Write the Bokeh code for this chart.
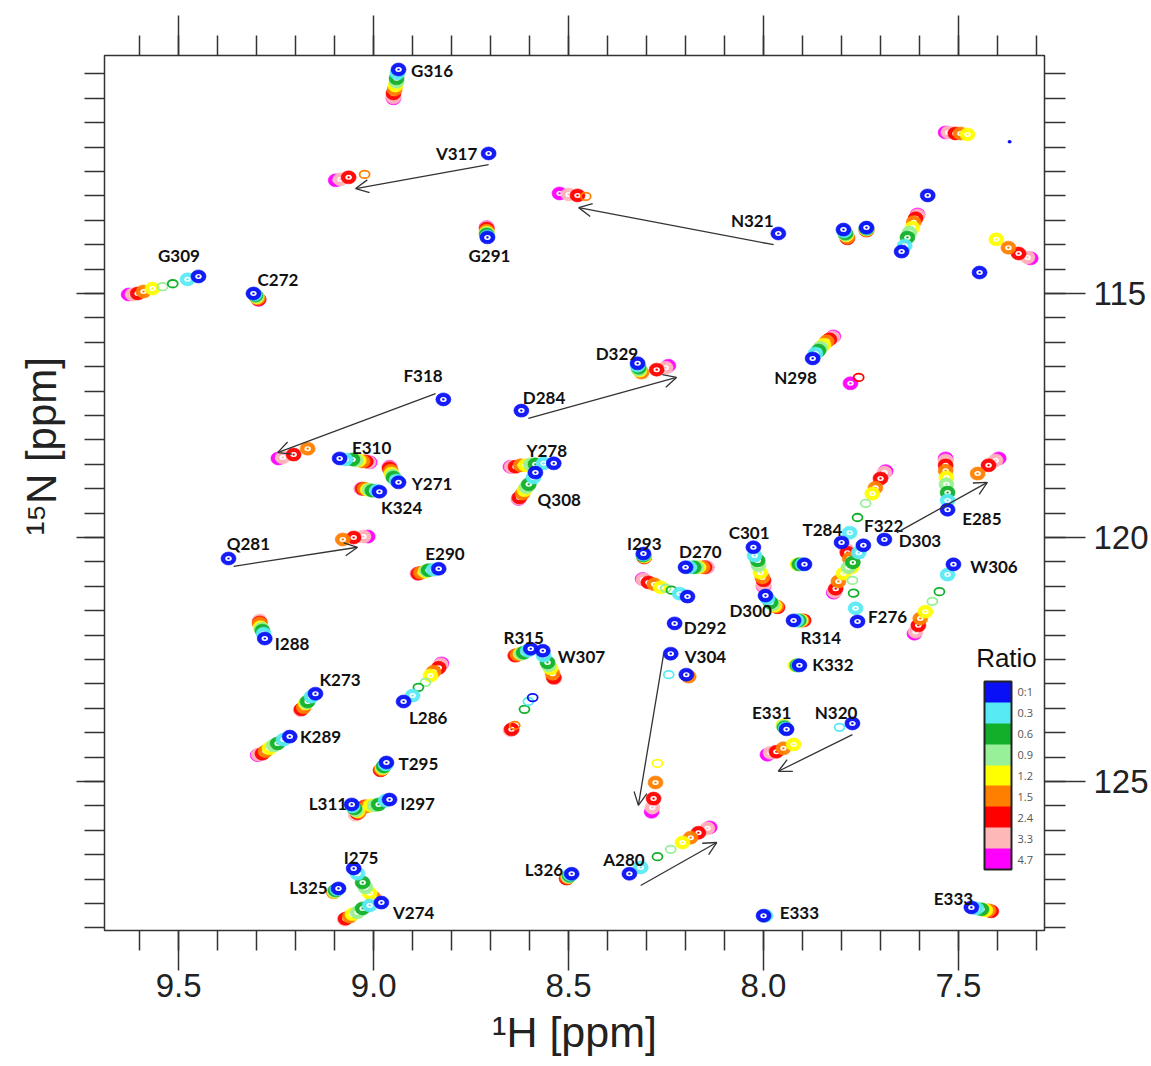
from bokeh.plotting import figure
from bokeh.models import (Range1d, LinearAxis, FixedTicker, ColumnDataSource, Arrow, Title,
                          OpenHead, ColorBar, LinearColorMapper, PrintfTickFormatter,
                          CustomLabelingPolicy)
from bokeh.core.properties import value
from bokeh.embed import file_html
from bokeh.resources import INLINE

# ---------------- data ----------------
ratio_labels = ["0:1", "0.3", "0.6", "0.9", "1.2", "1.5", "2.4", "3.3", "4.7"]
ratio_colors = ["#0A10F5", "#58EAF4", "#12B02A", "#98F098", "#FFFF00",
                "#FF8000", "#FF0000", "#FFB8B8", "#FF00FF"]

x_major = [9.5, 9.0, 8.5, 8.0, 7.5]
y_major = [115, 120, 125]

# 1H / 15N positions for each titration point (blue 0:1 ... magenta 4.7); None = not observed
G316_H = [8.936, 8.939, 8.941, 8.941, 8.944, 8.946, 8.949, 8.949, 8.949]
G316_N = [110.41, 110.49, 110.59, 110.66, 110.74, 110.82, 110.90, 110.98, 111.00]
V317_H = [8.705, None, None, None, None, 9.023, 9.064, 9.085, 9.097]
V317_N = [112.13, None, None, None, None, 112.56, 112.62, 112.66, 112.68]
N321_H = [7.962, None, None, None, None, 8.456, 8.477, 8.500, 8.523]
N321_N = [113.77, None, None, None, None, 113.01, 112.99, 112.97, 112.95]
G291_H = [8.708, 8.708, 8.710, 8.710, 8.710, 8.710, 8.710, 8.710, 8.710]
G291_N = [113.85, 113.83, 113.79, 113.77, 113.75, 113.71, 113.67, 113.65, 113.64]
G309_H = [9.449, 9.477, 9.515, 9.541, 9.567, 9.590, 9.605, 9.618, 9.628]
G309_N = [114.65, 114.71, 114.80, 114.86, 114.90, 114.96, 115.00, 115.02, 115.02]
C272_H = [9.308, 9.305, 9.303, 9.300, 9.300, 9.297, 9.295, 9.295, 9.295]
C272_N = [115.00, 115.02, 115.04, 115.06, 115.08, 115.10, 115.12, 115.12, 115.13]
X1_H = [None, None, None, None, 7.477, 7.495, 7.508, 7.526, 7.533]
X1_N = [None, None, None, None, 111.74, 111.72, 111.72, 111.70, 111.70]
X2_H = [7.369, None, None, None, None, None, None, None, None]
X2_N = [111.89, None, None, None, None, None, None, None, None]
X3_H = [7.579, None, None, None, None, None, None, None, None]
X3_N = [112.99, None, None, None, None, None, None, None, None]
X4_H = [7.646, 7.638, 7.631, 7.626, 7.618, 7.615, 7.610, 7.605, 7.605]
X4_N = [114.14, 114.02, 113.85, 113.75, 113.65, 113.54, 113.46, 113.40, 113.38]
X5_H = [7.795, 7.793, 7.790, 7.790, 7.788, 7.785, 7.785, None, None]
X5_N = [113.69, 113.73, 113.77, 113.79, 113.81, 113.85, 113.87, None, None]
X6_H = [7.736, 7.736, 7.736, 7.736, 7.736, 7.736, 7.736, None, None]
X6_N = [113.65, 113.66, 113.67, 113.68, 113.69, 113.70, 113.71, None, None]
X7_H = [None, None, None, None, 7.403, 7.372, 7.346, 7.323, 7.315]
X7_N = [None, None, None, None, 113.89, 114.06, 114.18, 114.26, 114.28]
X8_H = [7.446, None, None, None, None, None, None, None, None]
X8_N = [114.57, None, None, None, None, None, None, None, None]
F318_H = [8.821, None, None, None, None, 9.169, 9.205, 9.233, 9.244]
F318_N = [117.17, None, None, None, None, 118.18, 118.30, 118.36, 118.38]
E310_H = [9.087, 9.072, 9.054, 9.046, 9.038, 9.028, 9.020, 9.013, 9.010]
E310_N = [118.38, 118.40, 118.40, 118.42, 118.42, 118.44, 118.44, 118.46, 118.46]
Y271_H = [8.936, 8.941, 8.949, 8.951, 8.954, 8.956, 8.959, 8.959, 8.959]
Y271_N = [118.87, 118.83, 118.77, 118.73, 118.69, 118.63, 118.58, 118.56, 118.55]
K324_H = [8.985, 8.992, 9.003, 9.010, 9.015, 9.023, 9.028, 9.031, 9.031]
K324_N = [119.06, 119.04, 119.04, 119.02, 119.02, 119.00, 119.00, 119.00, 119.00]
Y278_H = [8.538, 8.564, 8.585, 8.597, 8.610, 8.623, 8.636, 8.646, 8.649]
Y278_N = [118.48, 118.48, 118.50, 118.50, 118.52, 118.52, 118.55, 118.55, 118.55]
Q308_H = [8.585, 8.590, 8.602, 8.608, 8.613, 8.618, 8.626, 8.628, 8.628]
Q308_N = [118.67, 118.77, 118.91, 118.97, 119.03, 119.10, 119.18, 119.20, 119.21]
D284_H = [8.621, None, None, None, None, None, 8.274, 8.251, 8.244]
D284_N = [117.40, None, None, None, None, None, 116.56, 116.52, 116.48]
D329_H = [8.323, 8.323, 8.320, 8.320, 8.318, 8.313, None, None, None]
D329_N = [116.43, 116.48, 116.52, 116.56, 116.58, 116.62, None, None, None]
N298_H = [7.874, 7.867, 7.859, 7.854, 7.846, 7.838, 7.831, 7.823, 7.821]
N298_N = [116.33, 116.23, 116.17, 116.11, 116.05, 115.98, 115.94, 115.90, 115.88]
X9_H = [None, None, None, None, None, None, 7.756, None, 7.777]
X9_N = [None, None, None, None, None, None, 116.72, None, 116.84]
Q281_H = [9.372, None, None, None, None, 9.079, 9.051, 9.026, 9.015]
Q281_N = [120.43, None, None, None, None, 120.04, 120.00, 119.98, 119.98]
E290_H = [8.833, 8.846, 8.859, 8.864, 8.867, 8.879, 8.885, 8.887, 8.887]
E290_N = [120.64, 120.66, 120.67, 120.68, 120.70, 120.72, 120.74, 120.74, 120.74]
I293_H = [8.308, 8.308, 8.308, 8.308, 8.306, 8.306, 8.306, None, None]
I293_N = [120.33, 120.35, 120.37, 120.37, 120.39, 120.39, 120.41, None, None]
D270_H = [8.200, 8.190, 8.179, 8.172, 8.167, 8.156, 8.151, 8.146, 8.146]
D270_N = [120.61, 120.61, 120.61, 120.61, 120.61, 120.61, 120.61, 120.61, 120.61]
X10_H = [8.195, 8.215, 8.236, 8.251, 8.264, 8.280, 8.295, 8.308, 8.310]
X10_N = [121.21, 121.15, 121.08, 121.04, 121.02, 120.96, 120.92, 120.86, 120.85]
D292_H = [8.228, None, None, None, None, None, None, None, None]
D292_N = [121.76, None, None, None, None, None, None, None, None]
C301_H = [8.026, 8.023, 8.015, 8.013, 8.008, 8.003, 8.000, 8.000, 8.000]
C301_N = [120.20, 120.37, 120.47, 120.57, 120.72, 120.82, 120.88, 120.98, 121.00]
D300_H = [7.995, 7.990, 7.982, 7.977, 7.972, 7.967, 7.964, None, None]
D300_N = [121.19, 121.25, 121.33, 121.37, 121.40, 121.41, 121.43, None, None]
X11_H = [7.895, 7.900, 7.908, 7.910, 7.913, None, None, None, None]
X11_N = [120.55, 120.55, 120.55, 120.55, 120.55, None, None, None, None]
R314_H = [7.923, 7.915, 7.910, 7.908, 7.905, 7.902, 7.897, None, None]
R314_N = [121.70, 121.70, 121.70, 121.70, 121.70, 121.70, 121.70, None, None]
T284_H = [7.800, 7.779, 7.759, 7.738, 7.721, 7.713, 7.700, 7.690, 7.687]
T284_N = [120.10, 119.90, 119.59, 119.30, 119.10, 118.98, 118.79, 118.67, 118.64]
F322_H = [7.744, 7.756, 7.771, 7.782, 7.795, 7.808, 7.815, 7.818, 7.820]
F322_N = [120.16, 120.31, 120.51, 120.61, 120.74, 120.90, 121.05, 121.11, 121.13]
F276_H = [7.759, 7.764, 7.769, 7.772, 7.774, 7.779, 7.785, 7.787, None]
F276_N = [121.72, 121.45, 121.14, 120.88, 120.61, 120.43, 120.31, 120.25, None]
D303_H = [7.690, None, None, None, None, 7.451, 7.423, 7.405, 7.397]
D303_N = [120.04, None, None, None, None, 118.69, 118.52, 118.42, 118.38]
E285_H = [7.528, 7.528, 7.528, 7.531, 7.531, 7.533, 7.533, 7.533, 7.533]
E285_N = [119.43, 119.24, 119.08, 118.91, 118.77, 118.63, 118.52, 118.42, 118.38]
W306_H = [7.513, 7.528, 7.549, 7.567, 7.585, 7.598, 7.603, 7.610, 7.613]
W306_N = [120.55, 120.76, 121.11, 121.31, 121.52, 121.66, 121.80, 121.93, 121.97]
K332_H = [7.908, 7.910, 7.913, 7.915, 7.918, None, None, None, None]
K332_N = [122.62, 122.62, 122.62, 122.62, 122.62, None, None, None, None]
E331_H = [7.941, 7.943, 7.946, 7.948, 7.949, None, None, None, None]
E331_N = [123.93, 123.91, 123.89, 123.87, 123.85, None, None, None, None]
N320_H = [7.772, 7.805, None, None, 7.923, 7.949, 7.967, 7.982, 7.990]
N320_N = [123.81, 123.89, None, None, 124.24, 124.32, 124.39, 124.41, 124.45]
R315_H = [8.597, 8.605, 8.615, 8.620, 8.623, 8.631, 8.636, 8.638, None]
R315_N = [122.28, 122.32, 122.36, 122.38, 122.38, 122.40, 122.42, 122.42, None]
W307_H = [8.566, 8.564, 8.554, 8.551, 8.546, 8.541, 8.538, 8.536, None]
W307_N = [122.32, 122.42, 122.56, 122.62, 122.68, 122.79, 122.87, 122.89, None]
X12_H = [8.592, 8.603, 8.613, None, None, 8.638, 8.646, 8.649, None]
X12_N = [123.28, 123.36, 123.52, None, None, 123.85, 123.93, 123.95, None]
V304_H = [8.238, 8.243, None, None, 8.272, 8.277, 8.282, 8.285, 8.287]
V304_N = [122.38, 122.81, None, None, 124.63, 125.02, 125.35, 125.53, 125.62]
X13_H = [8.198, None, None, None, None, 8.192, None, None, None]
X13_N = [122.81, None, None, None, None, 122.85, None, None, None]
A280_H = [8.344, 8.315, 8.272, 8.238, 8.208, 8.187, 8.167, 8.144, 8.138]
A280_N = [126.89, 126.76, 126.54, 126.39, 126.25, 126.15, 126.05, 125.96, 125.94]
L326_H = [8.492, 8.495, 8.497, 8.500, 8.500, 8.502, 8.505, None, None]
L326_N = [126.89, 126.91, 126.93, 126.95, 126.95, 126.97, 126.99, None, None]
E333a_H = [8.000, 7.995, None, None, None, None, None, None, None]
E333a_N = [127.75, 127.75, None, None, None, None, None, None, None]
E333b_H = [7.467, 7.454, 7.441, None, 7.431, 7.423, 7.416, None, None]
E333b_N = [127.58, 127.60, 127.62, None, 127.64, 127.64, 127.66, None, None]
I288_H = [9.279, 9.282, 9.285, 9.287, 9.290, 9.292, 9.292, 9.292, None]
I288_N = [122.07, 121.97, 121.91, 121.87, 121.84, 121.76, 121.74, 121.70, None]
K273_H = [9.149, 9.159, 9.169, 9.172, 9.174, 9.179, 9.185, 9.187, None]
K273_N = [123.20, 123.26, 123.36, 123.38, 123.40, 123.48, 123.52, 123.54, None]
L286_H = [8.923, 8.900, 8.885, 8.867, 8.854, 8.846, 8.833, 8.828, 8.826]
L286_N = [123.36, 123.24, 123.07, 122.97, 122.83, 122.75, 122.67, 122.60, 122.58]
K289_H = [9.215, 9.231, 9.246, 9.256, 9.267, 9.277, 9.285, 9.295, 9.297]
K289_N = [124.08, 124.14, 124.22, 124.26, 124.32, 124.38, 124.43, 124.45, 124.46]
T295_H = [8.967, 8.969, 8.974, 8.975, 8.977, 8.979, 8.982, None, None]
T295_N = [124.61, 124.65, 124.69, 124.71, 124.73, 124.75, 124.77, None, None]
L311_H = [9.056, 9.054, 9.049, 9.046, 9.041, 9.038, 9.041, 9.046, None]
L311_N = [125.47, 125.51, 125.55, 125.59, 125.61, 125.63, 125.65, 125.68, None]
I297_H = [8.959, 8.969, 8.987, 8.997, 9.008, 9.018, 9.023, None, None]
I297_N = [125.37, 125.39, 125.47, 125.49, 125.49, 125.51, 125.51, None, None]
I275_H = [9.051, 9.041, 9.028, 9.021, 9.010, 9.000, None, None, None]
I275_N = [126.78, 126.89, 127.07, 127.17, 127.29, 127.38, None, None, None]
V274_H = [8.980, 9.010, 9.028, 9.041, 9.054, 9.061, 9.072, 9.074, None]
V274_N = [127.48, 127.54, 127.60, 127.68, 127.72, 127.77, 127.81, 127.83, None]
L325_H = [9.090, 9.093, 9.097, 9.099, 9.100, 9.102, None, None, None]
L325_N = [127.19, 127.21, 127.23, 127.25, 127.26, 127.27, None, None, None]

# residue labels (text and 1H/15N anchor of the text centre)
label_text = ["G316", "V317", "N321", "G291", "G309", "C272", "F318", "D284", "D329",
              "N298", "E310", "Y278", "Y271", "K324", "Q308", "Q281", "E290", "I293",
              "D270", "C301", "T284", "F322", "D303", "E285", "W306", "D300", "F276",
              "R314", "D292", "K332", "E331", "N320", "R315", "W307", "V304", "I288",
              "K273", "L286", "K289", "T295", "L311", "I297", "I275", "L325", "V274",
              "L326", "A280", "E333", "E333"]
label_H = [8.850, 8.787, 8.029, 8.703, 9.499, 9.245, 8.873, 8.563, 8.376,
           7.918, 9.005, 8.556, 8.850, 8.928, 8.524, 9.321, 8.817, 8.306,
           8.162, 8.037, 7.849, 7.692, 7.599, 7.440, 7.409, 8.033, 7.682,
           7.853, 8.150, 7.822, 7.979, 7.814, 8.615, 8.467, 8.149, 9.209,
           9.086, 8.860, 9.136, 8.885, 9.117, 8.887, 9.032, 9.167, 8.897,
           8.563, 8.358, 7.908, 7.513]
label_N = [110.43, 112.13, 113.50, 114.22, 114.22, 114.71, 116.68, 117.13, 116.23,
           116.72, 118.16, 118.22, 118.89, 119.39, 119.22, 120.12, 120.33, 120.12,
           120.29, 119.90, 119.84, 119.75, 120.06, 119.61, 120.59, 121.50, 121.62,
           122.05, 121.84, 122.60, 123.59, 123.59, 122.05, 122.44, 122.44, 122.17,
           122.91, 123.69, 124.08, 124.63, 125.45, 125.45, 126.56, 127.17, 127.68,
           126.80, 126.60, 127.68, 127.40]

# arrows: start (blue peak) -> end (last titration point)
arrow_H0 = [8.705, 7.974, 8.841, 8.603, 9.359, 7.658, 8.256, 7.772, 8.315]
arrow_N0 = [112.36, 114.00, 117.05, 117.56, 120.59, 119.90, 122.38, 124.04, 127.13]
arrow_H1 = [9.046, 8.474, 9.246, 8.223, 9.041, 7.426, 8.321, 7.962, 8.120]
arrow_N1 = [112.85, 113.24, 118.26, 116.72, 120.20, 118.87, 125.49, 124.79, 126.25]

peaks = {
    "G316": (G316_H, G316_N), "V317": (V317_H, V317_N), "N321": (N321_H, N321_N),
    "G291": (G291_H, G291_N), "G309": (G309_H, G309_N), "C272": (C272_H, C272_N),
    "X1": (X1_H, X1_N), "X2": (X2_H, X2_N), "X3": (X3_H, X3_N), "X4": (X4_H, X4_N),
    "X5": (X5_H, X5_N), "X6": (X6_H, X6_N), "X7": (X7_H, X7_N), "X8": (X8_H, X8_N),
    "F318": (F318_H, F318_N), "E310": (E310_H, E310_N), "Y271": (Y271_H, Y271_N),
    "K324": (K324_H, K324_N), "Y278": (Y278_H, Y278_N), "Q308": (Q308_H, Q308_N),
    "D284": (D284_H, D284_N), "D329": (D329_H, D329_N), "N298": (N298_H, N298_N),
    "X9": (X9_H, X9_N), "Q281": (Q281_H, Q281_N), "E290": (E290_H, E290_N),
    "I293": (I293_H, I293_N), "D270": (D270_H, D270_N), "X10": (X10_H, X10_N),
    "D292": (D292_H, D292_N), "C301": (C301_H, C301_N), "D300": (D300_H, D300_N),
    "X11": (X11_H, X11_N), "R314": (R314_H, R314_N), "T284": (T284_H, T284_N),
    "F322": (F322_H, F322_N), "F276": (F276_H, F276_N), "D303": (D303_H, D303_N),
    "E285": (E285_H, E285_N), "W306": (W306_H, W306_N), "K332": (K332_H, K332_N),
    "E331": (E331_H, E331_N), "N320": (N320_H, N320_N), "R315": (R315_H, R315_N),
    "W307": (W307_H, W307_N), "X12": (X12_H, X12_N), "V304": (V304_H, V304_N),
    "X13": (X13_H, X13_N), "A280": (A280_H, A280_N), "L326": (L326_H, L326_N),
    "E333a": (E333a_H, E333a_N), "E333b": (E333b_H, E333b_N), "I288": (I288_H, I288_N),
    "K273": (K273_H, K273_N), "L286": (L286_H, L286_N), "K289": (K289_H, K289_N),
    "T295": (T295_H, T295_N), "L311": (L311_H, L311_N), "I297": (I297_H, I297_N),
    "I275": (I275_H, I275_N), "V274": (V274_H, V274_N), "L325": (L325_H, L325_N),
}

# weak (broadened) peaks drawn as open contours; tiny = barely visible dots
weak = {("G309", 2), ("G309", 3), ("V317", 5), ("N321", 5), ("A280", 2), ("A280", 3),
        ("N320", 1), ("V304", 1), ("V304", 4), ("X12", 0), ("X12", 1), ("X12", 2),
        ("X12", 5), ("X9", 6), ("T284", 2), ("T284", 3), ("F276", 2),
        ("F276", 3), ("W306", 2), ("W306", 3), ("L286", 2), ("L286", 3),
        ("X10", 2), ("X10", 3)}
tiny = {("X2", 0)}

# ---------------- figure ----------------
p = figure(frame_width=940, frame_height=875,
           x_range=Range1d(9.690, 7.2795), y_range=Range1d(128.053, 110.123),
           output_backend="svg", toolbar_location=None,
           x_axis_location=None, y_axis_location=None,
           min_border_left=104, min_border_top=55, min_border_right=10, min_border_bottom=0,
           background_fill_color="white", border_fill_color="white")
p.grid.visible = False
p.outline_line_color = "#333333"
p.outline_line_width = 1.5

x_minor = [round(7.3 + 0.1 * i, 1) for i in range(24)]
y_minor = [110.5 + 0.5 * i for i in range(36)]

no_labels = CustomLabelingPolicy(code="""
    try {
        for (let i = 0; i < indices.size; i++) { indices.unset(i) }
        return indices
    } catch (e) {
        return new Set()
    }
""")

def style_axis(ax, major_out, minor_out, show_labels):
    ax.major_tick_out = major_out
    ax.minor_tick_out = minor_out
    ax.major_tick_in = 0
    ax.minor_tick_in = 0
    ax.major_tick_line_color = "#333333"
    ax.minor_tick_line_color = "#333333"
    ax.major_tick_line_width = 1.5
    ax.minor_tick_line_width = 1.5
    ax.axis_line_color = None
    ax.major_label_text_font = "Liberation Sans"
    ax.major_label_text_color = "#222222"
    ax.major_label_text_font_size = "33px" if show_labels else "1px"
    if not show_labels:
        ax.major_label_policy = no_labels
        ax.major_label_standoff = 0
    ax.axis_label_text_font = "Liberation Sans"
    ax.axis_label_text_font_style = "normal"
    ax.axis_label_text_font_size = "43px"
    ax.axis_label_text_color = "#222222"

xb = LinearAxis(ticker=FixedTicker(ticks=x_major, minor_ticks=x_minor),
                formatter=PrintfTickFormatter(format="%.1f"), axis_label="¹H [ppm]")
style_axis(xb, 40, 20, True)
xb.major_label_standoff = 3
xb.axis_label_standoff = 8
p.add_layout(xb, "below")

xt = LinearAxis(ticker=FixedTicker(ticks=x_major, minor_ticks=x_minor))
style_axis(xt, 40, 20, False)
p.add_layout(xt, "above")

yl = LinearAxis(ticker=FixedTicker(ticks=y_major, minor_ticks=y_minor))
style_axis(yl, 28, 20, False)
p.add_layout(yl, "left")
p.add_layout(Title(text="¹⁵N [ppm]", align="left", offset=395, standoff=14,
                   text_font="Liberation Sans", text_font_size="42px",
                   text_font_style="normal", text_color="#222222"), "left")

yr = LinearAxis(ticker=FixedTicker(ticks=y_major, minor_ticks=y_minor),
                formatter=PrintfTickFormatter(format="%d"))
style_axis(yr, 41, 21, True)
yr.major_label_standoff = 8
p.add_layout(yr, "right")

# peaks: highest ratio first so that the free protein (blue) lies on top
names = list(peaks.keys())
for lvl in range(8, -1, -1):
    col = ratio_colors[lvl]
    sx, sy, wx, wy, tx, ty = [], [], [], [], [], []
    for nm in names:
        hs, ns = peaks[nm]
        if hs[lvl] is None:
            continue
        if (nm, lvl) in weak:
            wx.append(hs[lvl]); wy.append(ns[lvl])
        elif (nm, lvl) in tiny:
            tx.append(hs[lvl]); ty.append(ns[lvl])
        else:
            sx.append(hs[lvl]); sy.append(ns[lvl])
    src = ColumnDataSource(dict(x=sx, y=sy))
    p.ellipse(x="x", y="y", width=15, height=13, width_units="screen", height_units="screen",
              fill_color=col, line_color=col, line_width=0.6, fill_alpha=0.95, source=src)
    p.ellipse(x="x", y="y", width=6.5, height=5, width_units="screen", height_units="screen",
              fill_color="white", line_color=None, source=src)
    p.ellipse(x="x", y="y", width=2.6, height=2.2, width_units="screen", height_units="screen",
              fill_color=col, line_color=None, source=src)
    wsrc = ColumnDataSource(dict(x=wx, y=wy))
    p.ellipse(x="x", y="y", width=10, height=7.5, width_units="screen", height_units="screen",
              fill_color=None, line_color=col, line_width=1.8, source=wsrc)
    if tx:
        p.ellipse(x=tx, y=ty, width=4, height=3.5, width_units="screen", height_units="screen",
                  fill_color=col, line_color=None)

# arrows
for h0, n0, h1, n1 in zip(arrow_H0, arrow_N0, arrow_H1, arrow_N1):
    p.add_layout(Arrow(end=OpenHead(size=13, line_color="#333333", line_width=1.3),
                       x_start=h0, y_start=n0, x_end=h1, y_end=n1,
                       line_color="#333333", line_width=1.3))

# residue labels
lsrc = ColumnDataSource(dict(x=label_H, y=label_N, t=label_text))
p.text(x="x", y="y", text="t", source=lsrc, text_font=value("Lato"), text_font_style="bold",
       text_font_size="17px", text_align="center", text_baseline="middle", text_color="#111111")

# ratio colour bar
mapper = LinearColorMapper(palette=list(reversed(ratio_colors)), low=0, high=9)
tick_pos = [0.5 + i for i in range(9)]
cb = ColorBar(color_mapper=mapper, width=27, height=188, location=(880, 61),
              ticker=FixedTicker(ticks=tick_pos),
              major_label_overrides={t: lab for t, lab in zip(tick_pos, reversed(ratio_labels))},
              major_label_text_font="Open Sans", major_label_text_font_size="11px",
              major_label_text_color="#555555", label_standoff=6,
              major_tick_line_color=None, bar_line_color="#222222", bar_line_width=2,
              padding=0, background_fill_alpha=0, border_line_color=None)
p.add_layout(cb, "center")
p.text(x=[7.377], y=[122.46], text=["Ratio"], text_font=value("Liberation Sans"),
       text_font_size="26px", text_align="center", text_baseline="middle", text_color="#111111")

open("out.html", "w").write(file_html(p, INLINE))
